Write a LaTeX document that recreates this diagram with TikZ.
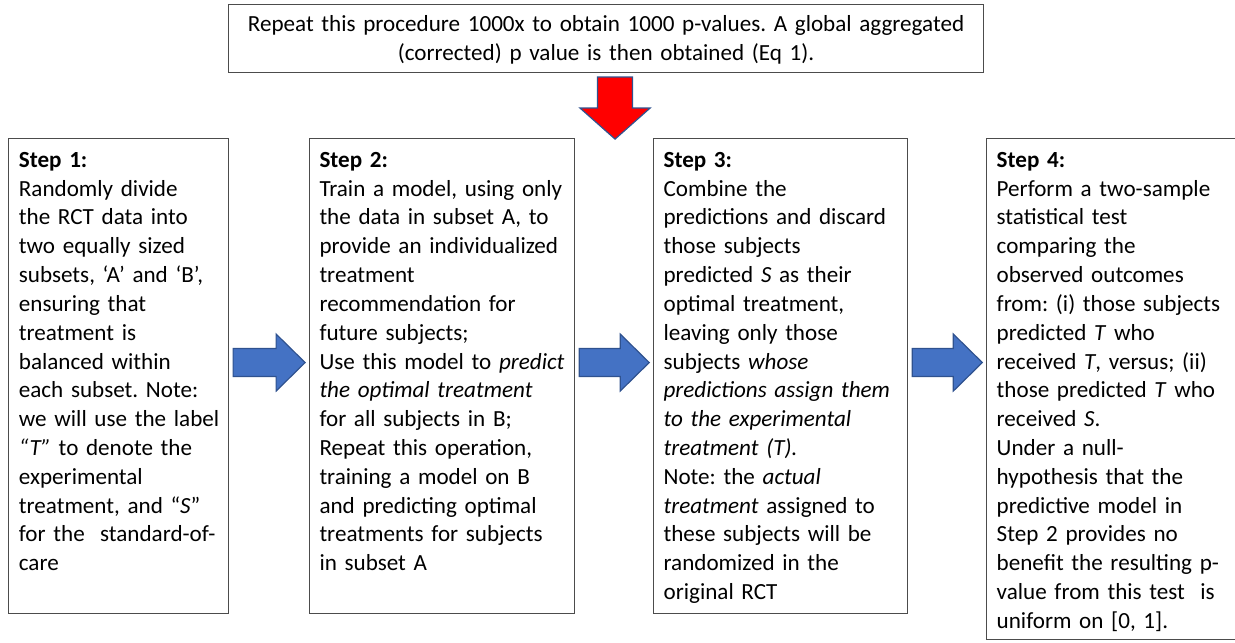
\documentclass[tikz,border=0pt]{standalone}
\usepackage{fontspec}
\setmainfont{Carlito}
\frenchspacing
\usetikzlibrary{calc,positioning}
\definecolor{arrowblue}{HTML}{4472C4}
\definecolor{arrowedge}{HTML}{2F528F}
\tikzset{
     step box/.style={draw=black!70, line width=0.55pt, anchor=north west, inner sep=0pt, minimum height=237.5pt},
     step text/.style={anchor=north west, inner sep=0pt, text width=150pt, align=left, text height=14.5pt, font=\fontsize{11.55pt}{14.4pt}\selectfont},
     repeat box/.style={draw=black!70, line width=0.55pt, anchor=north west, inner sep=0pt, text width=377.5pt, align=center, text height=13.5pt, text depth=20.5pt, font=\fontsize{11.55pt}{14.4pt}\selectfont},
     blue arrow/.style={draw=arrowedge, fill=arrowblue, line width=0.6pt},
     red arrow/.style={draw=arrowedge, fill=red, line width=0.6pt},
    }

\begin{document}
\begin{tikzpicture}[x=0.5pt, y=-0.5pt]
        \useasboundingbox (0,0) rectangle (1235,642);
        \node [repeat box] (rep) at (228,4) {Repeat this procedure 1000x to obtain 1000 p-values. A global aggregated\\ (corrected) p value is then obtained (Eq 1).};
        \node [step box, minimum width=110pt] (s1) at (8,138) {};
        \node [step box, minimum width=132.5pt, right=40pt of s1.north east, anchor=north west] (s2) {};
        \node [step box, minimum width=127pt, right=39pt of s2.north east, anchor=north west] (s3) {};
        \node [step box, minimum width=124.5pt, minimum height=250.5pt, right=39pt of s3.north east, anchor=north west] (s4) {};
        \node [step text] (t1) at ($(s1.north west)+(10.5,0)$) {\textbf{Step 1:}\\
            Randomly divide\\
            the RCT data into\\
            two equally sized\\
            subsets, ‘A’ and ‘B’,\\
            ensuring that\\
            treatment is\\
            balanced within\\
            each subset. Note:\\
            we will use the label\\
            \textit{“T”} to denote the\\
            experimental\\
            treatment, and “\textit{S}”\\
            for the\ \ standard-of-\\
            care};
        \node [step text] (t2) at ($(s2.north west)+(10,0)$) {\textbf{Step 2:}\\
            Train a model, using only\\
            the data in subset A, to\\
            provide an individualized\\
            treatment\\
            recommendation for\\
            future subjects;\\
            Use this model to \textit{predict}\\
            \textit{the optimal treatment}\\
            for all subjects in B;\\
            Repeat this operation,\\
            training a model on B\\
            and predicting optimal\\
            treatments for subjects\\
            in subset A};
        \node [step text] (t3) at ($(s3.north west)+(10,0)$) {\textbf{Step 3:}\\
            Combine the\\
            predictions and discard\\
            those subjects\\
            predicted \textit{S} as their\\
            optimal treatment,\\
            leaving only those\\
            subjects \textit{whose}\\
            \textit{predictions assign them}\\
            \textit{to the experimental}\\
            \textit{treatment (T).}\\
            Note: the \textit{actual}\\
            \textit{treatment} assigned to\\
            these subjects will be\\
            randomized in the\\
            original RCT};
        \node [step text] (t4) at ($(s4.north west)+(10,0)$) {\textbf{Step 4:}\\
            Perform a two-sample\\
            statistical test\\
            comparing the\\
            observed outcomes\\
            from: (i) those subjects\\
            predicted \textit{T} who\\
            received \textit{T}, versus; (ii)\\
            those predicted \textit{T} who\\
            received \textit{S}.\\
            Under a null-\\
            hypothesis that the\\
            predictive model in\\
            Step 2 provides no\\
            benefit the resulting p-\\
            value from this test\ \ is\\
            uniform on [0, 1].};
        % fat arrows between the steps
        \foreach \a/\b in {s1/s2, s2/s3, s3/s4} {
            \coordinate (p) at ($(\a.east)+(4,-13.5)$);
            \coordinate (q0) at (\a.east -| \b.west);
            \coordinate (q) at ($(q0)+(-4,-13.5)$);
            \draw [blue arrow] ($(p)+(0,-14)$) -- ($(q)+(-29,-14)$) -- ($(q)+(-29,-28.5)$) -- (q)
                -- ($(q)+(-29,28.5)$) -- ($(q)+(-29,14)$) -- ($(p)+(0,14)$) -- cycle;
        }
        % repeat arrow
        \coordinate (r) at ($(rep.south)+(-8.5,4)$);
        \draw [red arrow] (r) -- ++(35,0) -- ++(0,31) -- ++(17.5,0) -- ++(-35,31) -- ++(-35,-31) -- ++(17.5,0) -- cycle;
    \end{tikzpicture}
\end{document}
